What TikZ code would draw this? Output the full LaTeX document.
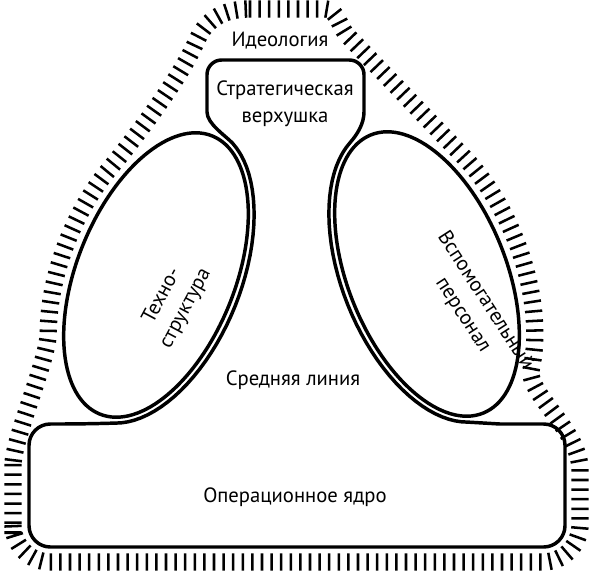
\documentclass[tikz,border=0pt]{standalone}
\usepackage{fontspec}
\setmainfont{PT Sans}
\usetikzlibrary{shapes.geometric}
\usetikzlibrary{decorations.pathreplacing}

\begin{document}
\begin{tikzpicture}[x=0.75pt,y=0.75pt,yscale=-1,xscale=1,
  contour/.style={line width=2.6pt, line join=round},
  unit/.style={draw, ellipse, line width=2.6pt, inner sep=0pt, minimum width=225pt, minimum height=118.5pt},
  hatch/.style={line width=1.9pt, decorate, decoration={ticks, segment length=7.2pt, amplitude=6.5pt}},
  txt/.style={font=\fontsize{15.5}{20}\selectfont, inner sep=0.75pt, align=center}]
\useasboundingbox (0,0) rectangle (593,575);

%Shape: Ideology band
\draw[hatch] (250,9) -- (325,9) .. controls (337,9) and (340,28) .. (347,35)
  -- plot[domain=55:140, samples=30, variable=\t] ({427-166*cos(\t)*0.3746+95*sin(\t)*0.9272}, {274-166*cos(\t)*0.9272-95*sin(\t)*0.3746})
  .. controls (526,393) and (580,430) .. (580,470)
  -- (580,500) {[rounded corners=28pt] -- (580,562) -- (13,562) -- (13,500)} -- (13,465)
  .. controls (13,440) and (48,359) .. (48.1,334.1)
  -- plot[domain=125:60, samples=30, variable=\t] ({156+166*cos(\t)*0.3746-95*sin(\t)*0.9272}, {275-166*cos(\t)*0.9272-95*sin(\t)*0.3746})
  .. controls (127,148) and (180,80) .. (197,40)
  .. controls (207,18) and (225,9) .. (250,9) -- cycle;

%Shape: Apex, middle line and core
\draw[contour] (207,112) -- (207,100) {[rounded corners=11pt] -- (207,60) -- (364,60) -- (364,100)} -- (364,112)
  .. controls (364,124) and (356.8,135.1) .. (350.15,142.5)
  -- plot[domain=-15:-168, samples=40, variable=\t] ({427-156*cos(\t)*0.3746+85*sin(\t)*0.9272}, {274-156*cos(\t)*0.9272-85*sin(\t)*0.3746})
  -- (500,424) {[rounded corners=16pt] -- (565,424) -- (565,547) -- (29,547) -- (29,424) -- (80,424)} -- (115.2,423.1)
  -- plot[domain=-168:-15, samples=40, variable=\t] ({156+156*cos(\t)*0.3746-85*sin(\t)*0.9272}, {275-156*cos(\t)*0.9272-85*sin(\t)*0.3746})
  .. controls (226.2,136.1) and (207,124) .. (207,112) -- cycle;

%Shape: Ellipse [technostructure]
\node[unit, rotate=68] (techno) at (156,275) {};
%Shape: Ellipse [support staff]
\node[unit, rotate=-68] (support) at (427,274) {};

% Text Node
\node[txt] (ideology) at (280,41) {Идеология};
% Text Node
\node[txt] (apex) at (285,104) {Стратегическая\\верхушка};
% Text Node
\node[txt] (middle) at (293,380) {Средняя линия};
% Text Node
\node[txt] (core) at (295,497) {Операционное ядро};
% Text Node
\node[txt, rotate=62] (technotext) at (174,302) {Техно-\\структура};
% Text Node
\node[txt, rotate=-57] (supporttext) at (474,308) {Вспомогательный\\персонал};

\end{tikzpicture}
\end{document}
